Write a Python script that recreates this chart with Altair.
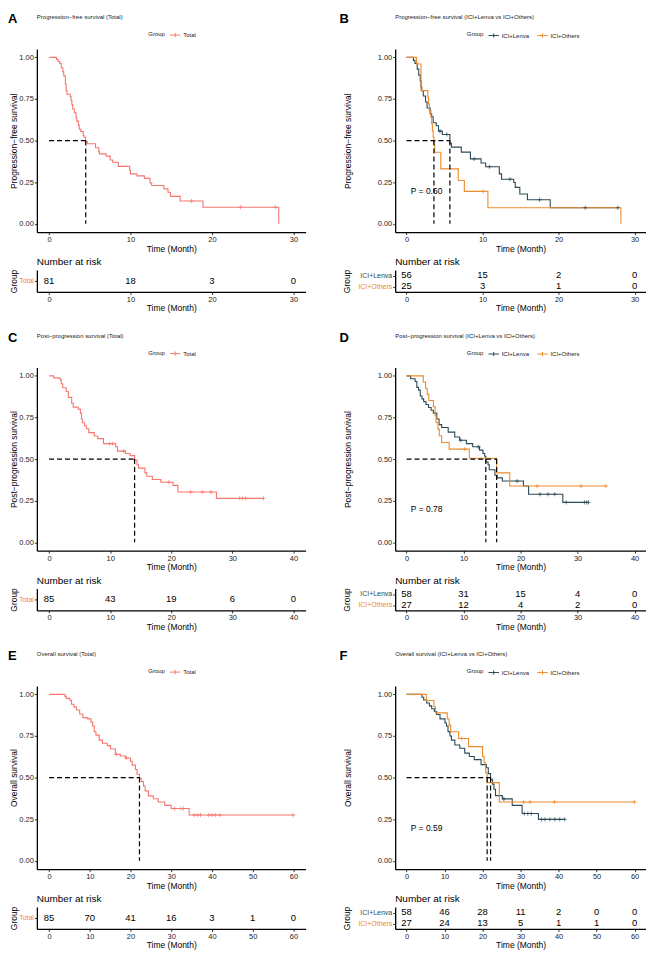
import altair as alt
import pandas as pd

FONT = "Liberation Sans"
RED = "#F8766D"
DARK = "#2C4A56"
ORANGE = "#EE8B2C"
PLUS = "M-1,0H1M0,-1V1"
LEG_SYM = "M-1,0H1M0,-0.4V0.4"

# ---------------- data ----------------
# A: progression-free survival, total
pfs_total_t = [0, 0.9, 1.1, 1.3, 1.5, 1.7, 1.8, 2.0, 2.1, 2.2, 2.6, 2.7, 2.8, 2.9, 3.1, 3.3, 3.4, 3.6, 3.7, 3.9, 4.2,
               4.3, 4.5, 4.7, 5.7, 6.1, 6.2, 7.0, 7.5, 7.8, 8.5, 9.9, 10.0, 10.8, 11.7, 12.4, 12.6, 14.1, 14.6, 14.9,
               16.1, 18.9, 28.2]
pfs_total_s = [1.0, 0.988, 0.975, 0.963, 0.938, 0.914, 0.889, 0.84, 0.80, 0.778, 0.765, 0.74, 0.716, 0.69, 0.667,
               0.64, 0.617, 0.593, 0.568, 0.555, 0.531, 0.52, 0.494, 0.481, 0.457, 0.432, 0.42, 0.407, 0.383, 0.37,
               0.345, 0.32, 0.30, 0.288, 0.273, 0.245, 0.23, 0.21, 0.19, 0.165, 0.137, 0.10, 0.0]
pfs_total_cens = [17.5, 23.5, 27.8]

# B: progression-free survival by group
pfs_lenva_t = [0, 0.9, 1.1, 1.4, 1.6, 1.8, 1.9, 2.0, 2.2, 2.5, 2.7, 3.1, 3.3, 3.5, 3.9, 4.2, 4.7, 5.7, 5.9, 7.2, 8.4,
               9.8, 10.4, 12.2, 12.5, 14.1, 14.3, 14.9, 15.9, 18.9, 27.8]
pfs_lenva_s = [1.0, 0.982, 0.964, 0.929, 0.893, 0.857, 0.821, 0.80, 0.768, 0.732, 0.696, 0.661, 0.643, 0.607, 0.589,
               0.557, 0.537, 0.484, 0.461, 0.431, 0.39, 0.365, 0.343, 0.30, 0.268, 0.248, 0.219, 0.179, 0.145, 0.097,
               0.097]
pfs_lenva_cens = [4.4, 5.3, 8.9, 10.9, 13.6, 17.5, 23.5, 27.8]
pfs_others_t = [0, 1.3, 1.9, 2.8, 2.9, 3.0, 3.2, 3.3, 3.4, 3.5, 3.6, 3.7, 4.5, 6.8, 7.6, 10.7, 28.2]
pfs_others_s = [1.0, 0.96, 0.80, 0.76, 0.72, 0.68, 0.64, 0.60, 0.56, 0.52, 0.48, 0.43, 0.33, 0.26, 0.195, 0.097, 0.0]
pfs_others_cens = [10.1]

# C: post-progression survival, total
pps_total_t = [0, 0.75, 1.8, 2.0, 2.25, 2.8, 3.15, 3.7, 3.95, 4.76, 5.13, 5.3, 5.45, 5.8, 6.1, 6.5, 7.4, 7.97, 8.9,
               10.9, 11.2, 12.5, 13.3, 14.0, 14.4, 14.65, 15.7, 16.0, 16.9, 18.3, 20.3, 21.1, 27.4, 35.1]
pps_total_s = [1.0, 0.988, 0.976, 0.953, 0.929, 0.906, 0.871, 0.835, 0.812, 0.80, 0.776, 0.741, 0.718, 0.70, 0.682,
               0.659, 0.639, 0.623, 0.593, 0.574, 0.548, 0.534, 0.521, 0.495, 0.466, 0.446, 0.417, 0.397, 0.377,
               0.361, 0.342, 0.302, 0.264, 0.264]
pps_total_cens = [9.9, 10.4, 12.2, 19.6, 23.2, 25.1, 26.5, 31.2, 31.7, 32.2, 35.1]

# D: post-progression survival by group
pps_lenva_t = [0, 0.7, 1.5, 1.8, 2.1, 2.4, 2.7, 3.0, 3.4, 3.85, 4.3, 4.7, 5.3, 5.7, 6.15, 7.3, 8.45, 9.3, 10.5, 11.6,
               12.8, 13.4, 13.7, 13.9, 14.3, 14.5, 15.5, 15.9, 16.8, 20.5, 21.4, 27.4, 31.9]
pps_lenva_s = [1.0, 0.983, 0.966, 0.931, 0.914, 0.879, 0.862, 0.845, 0.828, 0.81, 0.793, 0.776, 0.741, 0.707, 0.69,
               0.662, 0.633, 0.613, 0.593, 0.574, 0.554, 0.534, 0.517, 0.483, 0.466, 0.436, 0.403, 0.387, 0.368,
               0.338, 0.289, 0.24, 0.24]
pps_lenva_cens = [9.5, 12.6, 19.4, 23.4, 24.8, 26.0, 28.0, 31.2, 31.6, 31.9]
pps_others_t = [0, 2.93, 3.33, 3.62, 3.9, 4.7, 5.0, 5.17, 5.5, 5.74, 6.15, 7.47, 11.0, 15.8, 18.1, 35.0]
pps_others_s = [1.0, 0.963, 0.926, 0.889, 0.852, 0.815, 0.76, 0.72, 0.68, 0.64, 0.60, 0.56, 0.505, 0.417, 0.338,
                0.338]
pps_others_cens = [10.2, 22.9, 30.6, 35.0]

# E: overall survival, total
os_total_t = [0, 3.9, 4.2, 5.1, 5.5, 6.1, 6.7, 7.5, 8.3, 9.5, 10.3, 10.7, 11.1, 11.5, 12.3, 13.1, 14.3, 15.1, 16.3,
              17.5, 18.75, 20.0, 20.4, 21.2, 21.6, 22.2, 22.6, 23.2, 23.6, 24.4, 25.6, 26.8, 28.4, 30.0, 34.4, 60]
os_total_s = [1.0, 0.988, 0.976, 0.965, 0.941, 0.925, 0.906, 0.882, 0.86, 0.853, 0.833, 0.81, 0.775, 0.755, 0.725,
              0.706, 0.692, 0.672, 0.64, 0.63, 0.618, 0.598, 0.575, 0.549, 0.52, 0.497, 0.476, 0.45, 0.42, 0.39,
              0.373, 0.353, 0.333, 0.314, 0.275, 0.275]
os_total_cens = [16.5, 19.0, 30.8, 32.4, 33.0, 35.6, 36.4, 37.2, 39.2, 40.0, 40.8, 42.0, 60]

# F: overall survival by group
os_lenva_t = [0, 4.05, 4.5, 5.3, 6.0, 6.6, 7.3, 7.9, 8.8, 10.1, 10.5, 10.9, 11.4, 11.8, 12.7, 14.0, 15.3, 16.5, 17.8,
              19.6, 21.0, 21.5, 22.1, 22.6, 23.0, 23.4, 25.2, 27.8, 30.4, 34.7, 41.6]
os_lenva_s = [1.0, 0.983, 0.966, 0.948, 0.931, 0.914, 0.897, 0.879, 0.853, 0.828, 0.81, 0.776, 0.75, 0.725, 0.696,
              0.676, 0.647, 0.627, 0.608, 0.578, 0.559, 0.524, 0.49, 0.461, 0.43, 0.392, 0.372, 0.333, 0.284, 0.249,
              0.249]
os_lenva_cens = [25.6, 31.0, 31.9, 32.8, 35.5, 36.4, 37.7, 39.0, 40.3, 41.6]
os_others_t = [0, 5.2, 7.2, 7.6, 10.7, 11.2, 11.6, 13.7, 16.3, 20.0, 20.4, 20.8, 21.2, 24.4, 60]
os_others_s = [1.0, 0.963, 0.926, 0.889, 0.852, 0.815, 0.775, 0.735, 0.686, 0.627, 0.588, 0.53, 0.47, 0.353, 0.353]
os_others_cens = [14.5, 30.8, 32.5, 38.9, 60]

# numbers at risk
risk_ticks_30 = [0, 10, 20, 30]
risk_ticks_40 = [0, 10, 20, 30, 40]
risk_ticks_60 = [0, 10, 20, 30, 40, 50, 60]
risk_A_total = [81, 18, 3, 0]
risk_B_lenva = [56, 15, 2, 0]
risk_B_others = [25, 3, 1, 0]
risk_C_total = [85, 43, 19, 6, 0]
risk_D_lenva = [58, 31, 15, 4, 0]
risk_D_others = [27, 12, 4, 2, 0]
risk_E_total = [85, 70, 41, 16, 3, 1, 0]
risk_F_lenva = [58, 46, 28, 11, 2, 0, 0]
risk_F_others = [27, 24, 13, 5, 1, 1, 0]

pvals = {"B": "P = 0.60", "D": "P = 0.78", "F": "P = 0.59"}
pval_x = {"B": 0.55, "D": 0.75, "F": 1.1}

# ---------------- layout constants ----------------
W_LEFT, W_RIGHT = 270, 252
KM_H, RISK_H = 184, 22


def surv_at(t, times, surv):
    v = surv[0]
    for ti, si in zip(times, surv):
        if ti <= t:
            v = si
        else:
            break
    return v


def median_of(times, surv):
    for ti, si in zip(times, surv):
        if si <= 0.5:
            return ti
    return None


def panel(letter, title, ytitle, curves, xdom, xticks, risk_counts, pval, px,
          width, legend_x, letter_x, ypad_km, ypad_risk):
    groups = [c[0] for c in curves]
    colors = [c[1] for c in curves]
    rows = []
    for g, col, ts, ss, cens in curves:
        for t, s in zip(ts, ss):
            rows.append({"t": t, "s": s, "g": g})
    df = pd.DataFrame(rows)

    xs = alt.Scale(domain=xdom, nice=False, zero=False)
    ys = alt.Scale(domain=[-0.05, 1.05], nice=False, zero=False)
    xax = alt.Axis(values=xticks, title="Time (Month)", format="d")
    yax = alt.Axis(values=[0, 0.25, 0.5, 0.75, 1.0], format=".2f", title=ytitle, titlePadding=ypad_km)
    x_enc = alt.X("t:Q", scale=xs, axis=xax)
    y_enc = alt.Y("s:Q", scale=ys, axis=yax)

    lines = alt.Chart(df).mark_line(interpolate="step-after", strokeWidth=1.1).encode(
        x=x_enc, y=y_enc,
        color=alt.Color("g:N", scale=alt.Scale(domain=groups, range=colors),
                        legend=alt.Legend(title="Group", orient="none", legendX=legend_x, legendY=-20,
                                          direction="horizontal", titleOrient="left", titleFontSize=6,
                                          titleFontWeight="normal", labelFontSize=6, symbolType=LEG_SYM,
                                          symbolSize=110, symbolStrokeWidth=1, titlePadding=4,
                                          labelOffset=2, columnPadding=5, padding=0, titleColor="#222",
                                          labelColor="#222")))
    layers = [lines]
    for g, col, ts, ss, cens in curves:
        cdf = pd.DataFrame({"t": cens, "s": [surv_at(c, ts, ss) for c in cens]})
        layers.append(alt.Chart(cdf).mark_point(shape=PLUS, filled=False, size=18, strokeWidth=0.7,
                                                color=col, opacity=1).encode(x=x_enc, y=y_enc))
    if pval:
        tdf = pd.DataFrame({"t": [px], "s": [0.2], "label": [pval]})
        layers.append(alt.Chart(tdf).mark_text(align="left", baseline="middle", fontSize=8.5,
                                               color="black").encode(x=x_enc, y=y_enc, text="label:N"))
    meds = [median_of(c[2], c[3]) for c in curves]
    rdf = pd.DataFrame({"t": [0] + meds, "t2": [max(meds)] + meds,
                        "s": [0.5] + [0.5] * len(meds), "s2": [0.5] + [0.0] * len(meds)})
    layers.append(alt.Chart(rdf).mark_rule(strokeDash=[5, 3], color="black", strokeWidth=1.2).encode(
        x=x_enc, x2="t2:Q", y=y_enc, y2="s2:Q"))
    one = pd.DataFrame({"k": [0]})
    layers.append(alt.Chart(one).mark_text(text=letter, fontSize=13, fontWeight="bold", align="left",
                                           baseline="middle", color="black").encode(
        x=alt.value(letter_x), y=alt.value(-30)))
    layers.append(alt.Chart(one).mark_text(text=title, fontSize=6, align="left", baseline="middle",
                                           color="#222").encode(x=alt.value(0), y=alt.value(-32)))
    km = alt.layer(*layers).properties(width=width, height=KM_H)

    # risk table
    rrows = []
    for (g, col, ts, ss, cens), counts in zip(curves, risk_counts):
        for t, n in zip(xticks, counts):
            rrows.append({"t": t, "g": g, "n": str(n)})
    rk = pd.DataFrame(rrows)
    if len(groups) == 1:
        lab_col = colors[0]
    else:
        lab_col = alt.condition("datum.value === '%s'" % groups[1], alt.value(colors[1]), alt.value(colors[0]))
    risk = alt.Chart(rk).mark_text(fontSize=9.5, color="black").encode(
        x=alt.X("t:Q", scale=alt.Scale(domain=xdom, nice=False, zero=False), axis=xax),
        y=alt.Y("g:N", sort=groups, scale=alt.Scale(domain=groups),
                axis=alt.Axis(title="Group", labelColor=lab_col, labelFontSize=7, titlePadding=ypad_risk)),
        text="n:N",
    ).properties(width=width, height=RISK_H,
                 title=alt.TitleParams("Number at risk", anchor="start", frame="group", fontSize=10,
                                       fontWeight="normal", offset=2, color="black"))
    return alt.vconcat(km, risk, spacing=4).resolve_scale(x="independent", y="independent", color="independent")


tot = lambda t, s, c: [("Total", RED, t, s, c)]
pA = panel("A", "Progression\u2212free survival (Total)", "Progression\u2212free survival",
           tot(pfs_total_t, pfs_total_s, pfs_total_cens), [-1.5, 31.5], risk_ticks_30, [risk_A_total],
           None, 0, W_LEFT, 112, -29, 0, 0)
pB = panel("B", "Progression\u2212free survival (ICI+Lenva vs ICI+Others)", "Progression\u2212free survival",
           [("ICI+Lenva", DARK, pfs_lenva_t, pfs_lenva_s, pfs_lenva_cens),
            ("ICI+Others", ORANGE, pfs_others_t, pfs_others_s, pfs_others_cens)],
           [-1.5, 31.5], risk_ticks_30, [risk_B_lenva, risk_B_others], pvals["B"], pval_x["B"],
           W_RIGHT, 72, -56, 25, 6)
pC = panel("C", "Post\u2212progression survival (Total)", "Post\u2212progression survival",
           tot(pps_total_t, pps_total_s, pps_total_cens), [-2, 42], risk_ticks_40, [risk_C_total],
           None, 0, W_LEFT, 112, -29, 0, 0)
pD = panel("D", "Post\u2212progression survival (ICI+Lenva vs ICI+Others)", "Post\u2212progression survival",
           [("ICI+Lenva", DARK, pps_lenva_t, pps_lenva_s, pps_lenva_cens),
            ("ICI+Others", ORANGE, pps_others_t, pps_others_s, pps_others_cens)],
           [-2, 42], risk_ticks_40, [risk_D_lenva, risk_D_others], pvals["D"], pval_x["D"],
           W_RIGHT, 72, -56, 25, 6)
pE = panel("E", "Overall survival (Total)", "Overall survival",
           tot(os_total_t, os_total_s, os_total_cens), [-3, 63], risk_ticks_60, [risk_E_total],
           None, 0, W_LEFT, 112, -29, 0, 0)
pF = panel("F", "Overall survival (ICI+Lenva vs ICI+Others)", "Overall survival",
           [("ICI+Lenva", DARK, os_lenva_t, os_lenva_s, os_lenva_cens),
            ("ICI+Others", ORANGE, os_others_t, os_others_s, os_others_cens)],
           [-3, 63], risk_ticks_60, [risk_F_lenva, risk_F_others], pvals["F"], pval_x["F"],
           W_RIGHT, 72, -56, 25, 6)


def row(a, b):
    return alt.hconcat(a, b, spacing=34).resolve_scale(x="independent", y="independent", color="independent")


chart = alt.vconcat(row(pA, pB), row(pC, pD), row(pE, pF), spacing=19).resolve_scale(
    x="independent", y="independent", color="independent"
).properties(padding={"left": 0, "top": 3, "right": 0, "bottom": 0}).configure(font=FONT).configure_view(
    stroke=None
).configure_axis(
    grid=False, domainColor="black", domainWidth=1.3, tickColor="black", tickWidth=0.8, tickSize=2.5,
    labelColor="#222", labelFontSize=7.5, labelPadding=1, titleColor="black", titleFontSize=8.5,
    titleFontWeight="normal", titlePadding=1
)

chart.save("out.html", embed_options={"renderer": "svg", "actions": False})
